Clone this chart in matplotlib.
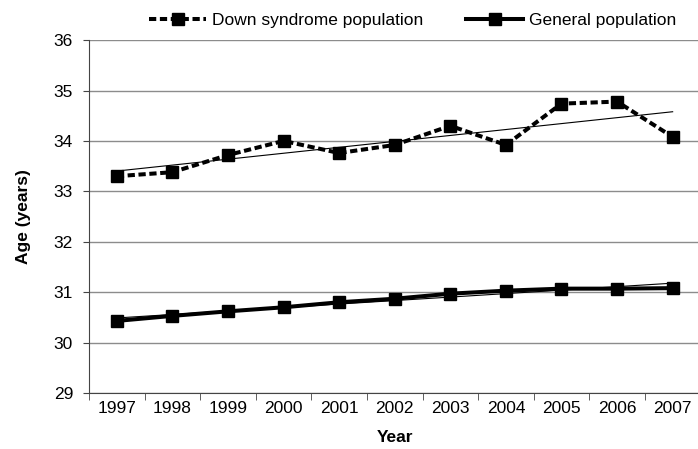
import numpy as np
import matplotlib.pyplot as plt

plt.rcParams['font.family'] = ['Liberation Sans', 'DejaVu Sans']

years = ['1997', '1998', '1999', '2000', '2001', '2002', '2003', '2004', '2005', '2006', '2007']
down_syndrome = [33.30, 33.38, 33.72, 34.00, 33.76, 33.92, 34.30, 33.92, 34.74, 34.78, 34.08]
general = [30.43, 30.53, 30.62, 30.70, 30.80, 30.87, 30.97, 31.03, 31.07, 31.07, 31.08]

x = np.arange(len(years))

fig = plt.figure(figsize=(6.98, 4.49), dpi=100)
ax = fig.add_axes([0.1275, 0.1247, 0.876, 0.786])

# horizontal gridlines
for yv in range(29, 37):
    ax.axhline(yv, color='#8c8c8c', lw=1.0, zorder=0)

ax.plot(x, down_syndrome, color='black', lw=2.9, ls=(0, (1.8, 0.9)),
        marker='s', ms=9, label='Down syndrome population', zorder=3)
ax.plot(x, general, color='black', lw=2.9, marker='s', ms=9,
        label='General population', zorder=3)

# linear trend lines
for vals in (down_syndrome, general):
    p = np.polyfit(x, vals, 1)
    ax.plot(x, np.polyval(p, x), color='black', lw=0.8, zorder=4)

ax.set_xlim(-0.5, len(years) - 0.5)
ax.set_ylim(29, 36)
ax.set_yticks(range(29, 37))
ax.set_xticks(x)
ax.set_xticklabels(years)
ax.set_xticks(np.arange(-0.5, len(years)), minor=True)
ax.tick_params(axis='x', which='major', length=0, pad=6, labelsize=12.5)
ax.tick_params(axis='x', which='minor', length=5, color='#444444')
ax.tick_params(axis='y', length=4.5, pad=7, labelsize=12.5, color='#444444')

for s in ['top', 'right']:
    ax.spines[s].set_visible(False)
ax.spines['left'].set_color('#444444')
ax.spines['bottom'].set_color('#444444')

ax.set_xlabel('Year', fontweight='bold', fontsize=12.5, labelpad=10)
ax.set_ylabel('Age (years)', fontweight='bold', fontsize=12.5, labelpad=16)

fig.legend(loc='center left', bbox_to_anchor=(149 / 698, 1 - 20 / 449), ncol=2,
           frameon=False, fontsize=12.5, handlelength=3.3, columnspacing=2.5,
           handletextpad=0.3, borderpad=0, borderaxespad=0)

plt.savefig('out.png', dpi=100)
